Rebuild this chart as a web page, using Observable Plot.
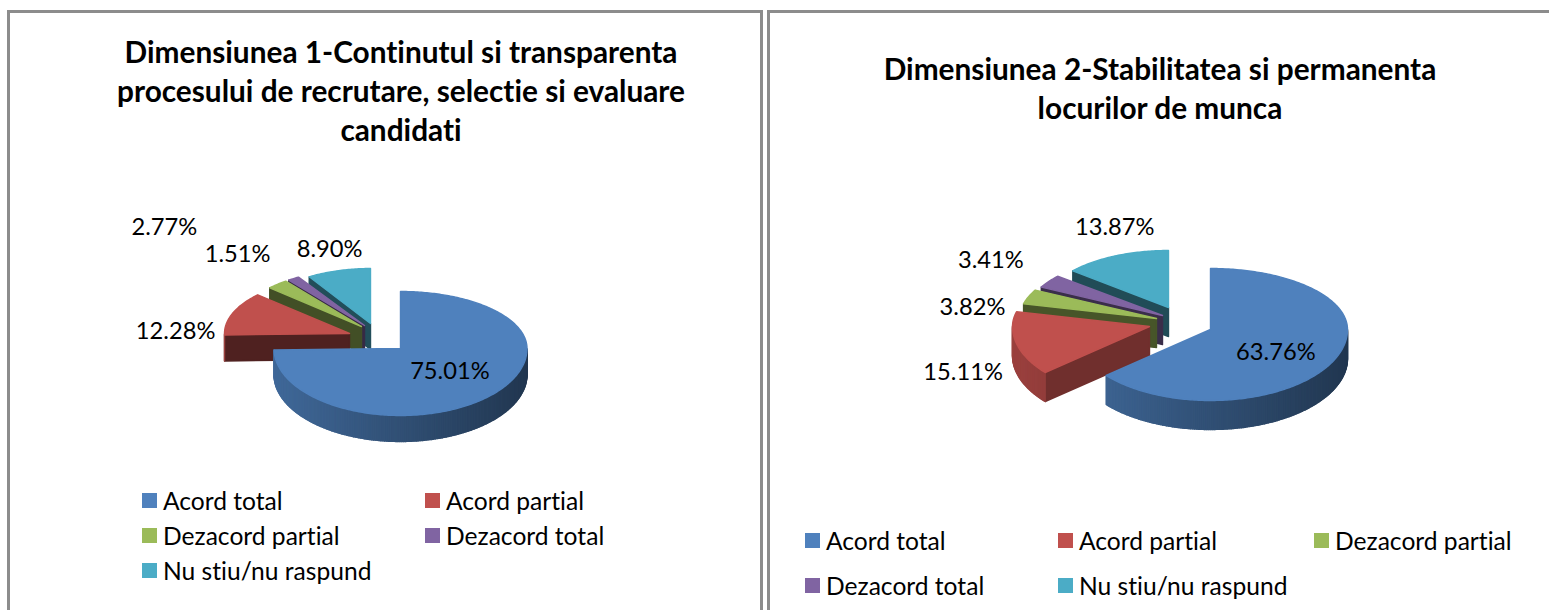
<!DOCTYPE html>
<html><head><meta charset="utf-8">
<script src="https://cdn.jsdelivr.net/npm/d3@7"></script>
<script src="https://cdn.jsdelivr.net/npm/@observablehq/plot@0.6"></script>
<style>
html,body{margin:0;padding:0;background:#fff;width:1549px;height:610px;overflow:hidden;font-family:Lato,sans-serif;color:#000;font-variant-ligatures:none}
svg text{font-variant-ligatures:none}
.abs{position:absolute}
.title{font-weight:700;font-size:29.8px;line-height:39px;text-align:center;white-space:nowrap;transform:translateX(-50%)}
.leg{font-size:24.6px;line-height:26px;white-space:nowrap}
.sw{width:15px;height:15px}
.panel{border:solid #8c8c8c;border-width:3px 3px 0 3px;box-sizing:border-box}
</style></head><body>
<script>
const categories = ["Acord total","Acord partial","Dezacord partial","Dezacord total","Nu stiu/nu raspund"];
const colors = ["#4f81bd","#c0504d","#9bbb59","#8064a2","#4bacc6"];
const title1 = ["Dimensiunea 1-Continutul si transparenta","procesului de recrutare, selectie si evaluare","candidati"];
const title2 = ["Dimensiunea 2-Stabilitatea si permanenta","locurilor de munca"];
const values1 = [75.01,12.28,2.77,1.51,8.90];
const values2 = [63.76,15.11,3.82,3.41,13.87];

// Layout of each panel (page pixels): apex of each exploded slice, radii, cut-face shade, label nudge.
const layout1 = {
  left:0, width:765, depth:26,
  slices:[
    {ax:400,ay:348,rx:126.5,up:57,down:67,cut:2.2,nudge:[-41,-24]},
    {ax:349,ay:333,rx:125,up:57,down:67,cut:2.5,nudge:[-57,18]},
    {ax:361,ay:326,rx:125,up:57,down:67,cut:2.4,nudge:[-113,-57]},
    {ax:364,ay:325,rx:125,up:57,down:67,cut:2.4,nudge:[-56,-24]},
    {ax:370,ay:323,rx:116,up:55,down:67,cut:2.2,nudge:[-9,-21]}
  ]
};
const layout2 = {
  left:765, width:784, depth:29,
  slices:[
    {ax:1210,ay:329,rx:137,up:61,down:71,cut:2.2,nudge:[-59,-7]},
    {ax:1149,ay:326,rx:137,up:61,down:71,cut:1.5,nudge:[-53,30]},
    {ax:1156,ay:318,rx:137,up:61,down:71,cut:2.2,nudge:[-56,11]},
    {ax:1162,ay:315,rx:137,up:61,down:71,cut:2.2,nudge:[-58,-21]},
    {ax:1168,ay:307,rx:125,up:57,down:71,cut:2.3,nudge:[-1,-28]}
  ]
};

function buildRows(values, L){
  const total = d3.sum(values);
  let acc = 0;
  const polys = [], labels = [];
  const slices = values.map((v,i)=>{
    const a0 = acc/total*2*Math.PI; acc += v;
    return {i, v, a0, a1: acc/total*2*Math.PI, g:L.slices[i]};
  });
  const pt = (g,a,depth=0)=>[
    g.ax + g.rx*Math.sin(a),
    g.ay - Math.cos(a)*(Math.cos(a)>0?g.up:g.down) + depth
  ];
  let id = 0;
  const poly = (pts,fill)=>{ id++; for(const p of pts) polys.push({id,x:p[0],y:p[1],fill}); };
  const D = L.depth;
  // back to front: last slice first, first slice on top
  for(const s of [...slices].reverse()){
    const g = s.g, base = d3.color(colors[s.i]);
    const apex = [g.ax,g.ay], apexD = [g.ax,g.ay+D];
    const cutFill = base.darker(g.cut).formatHex();
    // only cut faces turned toward the viewer
    if(Math.sin(s.a0)<-1e-6) poly([apex,pt(g,s.a0),pt(g,s.a0,D),apexD],cutFill);
    if(Math.sin(s.a1)>1e-6) poly([apex,pt(g,s.a1),pt(g,s.a1,D),apexD],cutFill);
    const n = Math.max(4,Math.ceil((s.a1-s.a0)/0.015));
    for(let k=0;k<n;k++){
      const a = s.a0+(s.a1-s.a0)*k/n, b = s.a0+(s.a1-s.a0)*(k+1)/n;
      if(Math.cos((a+b)/2)>=0) continue; // back of the rim is hidden
      const t = (Math.sin((a+b)/2)+1)/2;
      const fill = d3.interpolateRgb(base.darker(0.6),base.darker(2.4))(t);
      poly([pt(g,a),pt(g,b),pt(g,b,D),pt(g,a,D)],fill);
    }
    const top = [apex];
    for(let k=0;k<=n;k++) top.push(pt(g,s.a0+(s.a1-s.a0)*k/n));
    poly(top,colors[s.i]);
  }
  for(const s of slices){
    const m = (s.a0+s.a1)/2, o = pt(s.g,m);
    labels.push({x:o[0]+s.g.nudge[0], y:o[1]+s.g.nudge[1], text:s.v.toFixed(2)+"%"});
  }
  return {polys,labels};
}

function drawPie(values,L){
  const {polys,labels} = buildRows(values,L);
  const svg = Plot.plot({
    width:L.width, height:610, margin:0,
    x:{domain:[L.left,L.left+L.width],range:[0,L.width],axis:null},
    y:{domain:[0,610],range:[0,610],axis:null},
    style:{background:"transparent",fontFamily:"Lato,sans-serif"},
    marks:[
      Plot.line(polys,{x:"x",y:"y",z:"id",curve:"linear-closed",
        fill:{value:d=>d.fill,scale:null},stroke:{value:d=>d.fill,scale:null},strokeWidth:1.4}),
      Plot.text(labels,{x:"x",y:"y",text:"text",fontSize:23.7,fill:"#000"})
    ]
  });
  svg.style.position="absolute"; svg.style.left=L.left+"px"; svg.style.top="0";
  document.body.appendChild(svg);
}

function div(cls,css,html){
  const e=document.createElement("div"); e.className="abs "+cls;
  Object.assign(e.style,css); if(html!=null) e.innerHTML=html;
  document.body.appendChild(e); return e;
}
div("panel",{left:"7px",top:"10px",width:"756px",height:"600px"});
div("panel",{left:"767px",top:"10px",width:"790px",height:"600px"});
drawPie(values1,layout1);
drawPie(values2,layout2);
div("title",{left:"401px",top:"32px"},title1.join("<br>"));
div("title",{left:"1160px",top:"49px"},title2.join("<br>"));

const legend1 = [[142,501],[425,501],[142,536],[425,536],[142,571]];
const legend2 = [[805,541],[1058,541],[1314,541],[805,586],[1058,586]];
for(const pos of [legend1,legend2]) pos.forEach(([x,y],i)=>{
  div("sw",{left:x+"px",top:(y-8)+"px",background:colors[i]});
  div("leg",{left:(x+21)+"px",top:(y-13)+"px"},categories[i]);
});
</script>
</body></html>
